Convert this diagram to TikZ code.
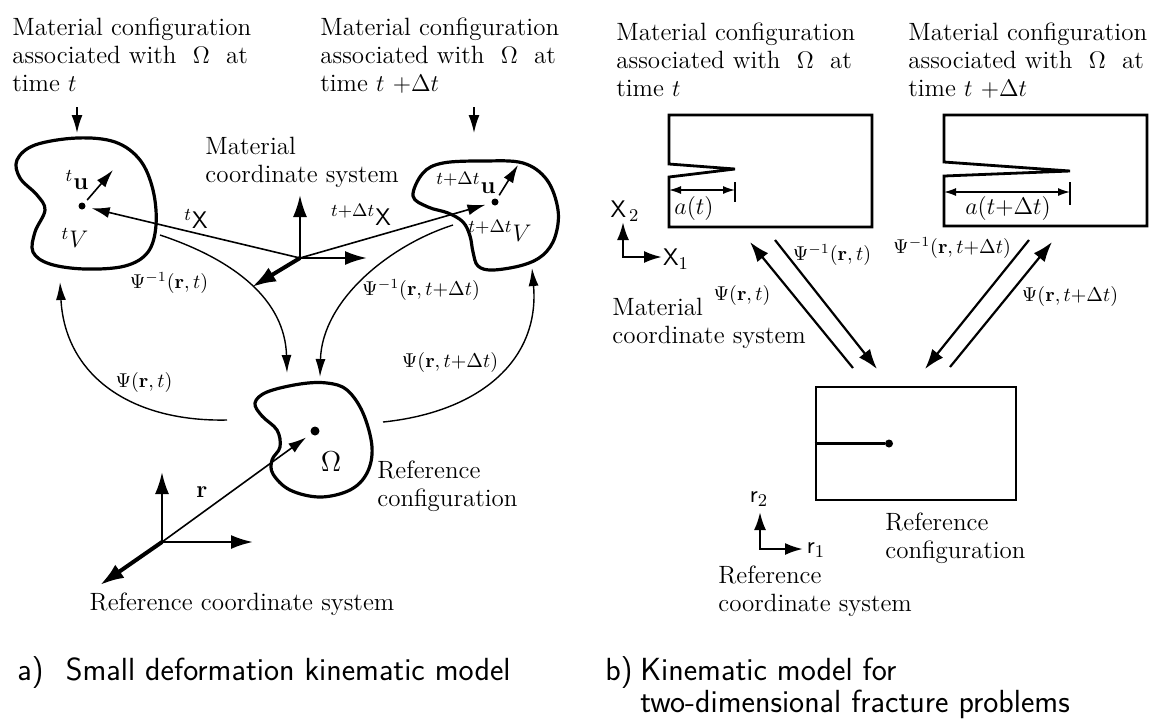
\documentclass[tikz,border=0pt]{standalone}
\usepackage{tikz}
\usetikzlibrary{arrows.meta, positioning}

\begin{document}
\begin{tikzpicture}[x=0.5pt, y=-0.5pt,
    every node/.style={inner sep=0pt, font=\fontsize{12.5}{14}\selectfont},
    txt/.style={align=left, anchor=north west},
    lbl/.style={font=\fontsize{10}{12}\selectfont},
    captext/.style={anchor=base west, font=\sffamily\fontsize{16}{19}\selectfont},
    blob/.style={line width=1.6pt, line join=round},
    plate/.style={line width=1.4pt, line join=miter},
    axisarrow/.style={line width=1.2pt, -{Latex[length=11pt,width=7pt]}},
    heavyaxis/.style={line width=2pt, -{Latex[length=12pt,width=8pt]}},
    vecarrow/.style={line width=0.8pt, -{Latex[length=9pt,width=5.5pt]}},
    maparrow/.style={line width=0.7pt, -{Latex[length=9pt,width=5pt]}},
    pairarrow/.style={line width=1.1pt, -{Latex[length=10pt,width=7pt]}},
    dimarrow/.style={line width=0.7pt, {Latex[length=6pt,width=4pt]}-{Latex[length=6pt,width=4pt]}},
    dot/.style={circle, fill, inner sep=0pt, minimum size=3.5pt}]

\useasboundingbox (0,0) rectangle (1159,725);

% ---------- a) small deformation kinematic model ----------
% texts
\node[txt] (matT) at (12,17) {Material configuration\\associated with \ $\Omega$ \ at\\time $t$};
\node[txt] (matTdt) at (320,17) {Material configuration\\associated with \ $\Omega$ \ at\\time $t$ $+\Delta t$};
\node[txt] (matSys) at (205,137) {Material\\coordinate system};
\node[txt] (refConf) at (377,460) {Reference\\configuration};
\node[anchor=base] (refSys) at (242,610) {Reference coordinate system};

% bodies
\draw[blob] plot[smooth cycle, tension=0.6] coordinates {(17,160) (35,145) (77,138) (115,142) (140,160) (153,190) (156,225) (148,252) (125,266) (85,269) (50,264) (33,252) (35,232) (45,210) (37,195) (20,178)}; % time t
\draw[blob] plot[smooth cycle, tension=0.6] coordinates {(413,196) (423,173) (443,163) (483,161) (523,163) (547,180) (558,210) (555,237) (543,255) (523,265) (493,270) (478,266) (473,252) (470,236) (463,222) (448,213) (428,207)}; % time t+dt
\draw[blob] plot[smooth cycle, tension=0.6] coordinates {(255,403) (267,392) (300,384) (327,383) (347,390) (363,413) (372,447) (367,473) (350,490) (320,497) (290,490) (273,474) (272,460) (280,447) (277,430) (262,416)}; % reference

% points
\node[dot] (pT) at (82,206) {};
\node[dot] (pTdt) at (495,202) {};
\node[dot, minimum size=4.5pt] (pOm) at (315,431) {};

% point labels
\node (uT) at (77,180) {${}^{t}\mathbf{u}$};
\node (VT) at (75,238) {${}^{t}V$};
\node (uTdt) at (466,183) {${}^{t+\Delta t}\mathbf{u}$};
\node (VTdt) at (500,231) {${}^{t+\Delta t}V$};
\node[font=\fontsize{15}{18}\selectfont] (om) at (331,462) {$\Omega$};

% pointers from the texts
\coordinate (inT0) at (77,107); \coordinate (inT1) at (77,133);
\coordinate (inD0) at (474,107); \coordinate (inD1) at (474,133);
\draw[vecarrow] (inT0) -- (inT1);
\draw[vecarrow] (inD0) -- (inD1);

% displacement vectors
\coordinate (uTtip) at (113,170);
\coordinate (uDtip) at (518,165);
\draw[vecarrow, shorten <=2pt] (pT) -- (uTtip);
\draw[vecarrow, shorten <=2pt] (pTdt) -- (uDtip);

% material coordinate system
\coordinate (matO) at (300,258);
\coordinate (matY) at (300,195);
\coordinate (matX) at (367,258);
\coordinate (matZ) at (252,287);
\draw[axisarrow] (matO) -- (matY);
\draw[axisarrow] (matO) -- (matX);
\draw[heavyaxis] (matO) -- (matZ);
\draw[vecarrow, shorten >=3pt] (matO) -- (pT);
\draw[vecarrow, shorten >=3pt] (matO) -- (pTdt);
\node (XT) at (196,219) {${}^{t}\mathsf{X}$};
\node (XTdt) at (361,215) {${}^{t+\Delta t}\mathsf{X}$};

% reference coordinate system
\coordinate (refO) at (162,542);
\coordinate (refY) at (162,472);
\coordinate (refX) at (253,542);
\coordinate (refZ) at (100,585);
\draw[axisarrow] (refO) -- (refY);
\draw[axisarrow] (refO) -- (refX);
\draw[heavyaxis] (refO) -- (refZ);
\draw[vecarrow, shorten >=3pt] (refO) -- (pOm);
\node (r) at (202,492) {$\mathbf{r}$};

% mappings
\coordinate (psiTa) at (160,235); \coordinate (omTa) at (287,373);
\coordinate (psiDa) at (453,225); \coordinate (omDa) at (320,377);
\coordinate (omTb) at (227,420); \coordinate (psiTb) at (60,282);
\coordinate (omDb) at (383,422); \coordinate (psiDb) at (532,268);
\draw[maparrow] (psiTa) .. controls (235,260) and (285,300) .. (omTa);
\draw[maparrow] (psiDa) .. controls (390,245) and (322,300) .. (omDa);
\draw[maparrow] (omTb) .. controls (130,422) and (65,375) .. (psiTb);
\draw[maparrow] (omDb) .. controls (480,412) and (540,360) .. (psiDb);
\node[lbl] (invT) at (169,283) {$\Psi^{-1}(\mathbf{r},t)$};
\node[lbl] (invD) at (421,290) {$\Psi^{-1}(\mathbf{r},t{+}\Delta t)$};
\node[lbl] (fwdT) at (144,382) {$\Psi(\mathbf{r},t)$};
\node[lbl] (fwdD) at (450,362) {$\Psi(\mathbf{r},t{+}\Delta t)$};

% ---------- b) two-dimensional fracture ----------
% texts
\node[txt] (matT2) at (616,22) {Material configuration\\associated with \ $\Omega$ \ at\\time $t$};
\node[txt] (matTdt2) at (908,22) {Material configuration\\associated with \ $\Omega$ \ at\\time $t$ $+\Delta t$};
\node[txt] (matSys2) at (612,298) {Material\\coordinate system};
\node[txt] (refConf2) at (885,512) {Reference\\configuration};
\node[txt] (refSys2) at (718,565) {Reference\\coordinate system};

% cracked plates
\draw[plate] (669,177) -- (669,227) -- (872,227) -- (872,115) -- (669,115) -- (669,164) -- (735,169) -- cycle; % time t
\draw[plate] (944,176) -- (944,226) -- (1147,226) -- (1147,115) -- (944,115) -- (944,162) -- (1070,171) -- cycle; % time t+dt
\node[draw, plate, minimum width=100pt, minimum height=56.5pt] (refBox) at (916,443.5) {};
\node[dot, minimum size=4pt] (crackTip) at (889,443.5) {};
\draw[plate] (refBox.west) -- (crackTip);

% crack lengths
\coordinate (aT0) at (669,190); \coordinate (aT1) at (735,190);
\coordinate (aD0) at (944,192); \coordinate (aD1) at (1070,192);
\draw[dimarrow] (aT0) -- (aT1);
\draw[dimarrow] (aD0) -- (aD1);
\draw[line width=0.8pt] (aT1) ++(0,-8) -- ++(0,20);
\draw[line width=0.8pt] (aD1) ++(0,-10) -- ++(0,23);
\node (aT) at (694,208) {$a(t)$};
\node (aD) at (1008,208) {$a(t{+}\Delta t)$};

% axes
\coordinate (X0) at (623,257); \coordinate (X2) at (623,222); \coordinate (X1) at (662,257);
\draw[line width=1.2pt, {Latex[length=9pt,width=6pt]}-{Latex[length=9pt,width=6pt]}, line join=miter] (X2) -- (X0) -- (X1);
\node (X2lbl) at (625,211) {$\mathsf{X}_{\,2}$};
\node (X1lbl) at (676,259) {$\mathsf{X}_{1}$};
\coordinate (r0) at (760,549); \coordinate (r2) at (760,512); \coordinate (r1) at (803,549);
\draw[line width=1.2pt, {Latex[length=9pt,width=6pt]}-{Latex[length=9pt,width=6pt]}, line join=miter] (r2) -- (r0) -- (r1);
\node (r2lbl) at (759,499) {$\mathsf{r}_{2}$};
\node (r1lbl) at (816,550) {$\mathsf{r}_{1}$};

% mappings
\coordinate (mT1) at (750,242); \coordinate (rT1) at (853,368);
\coordinate (mT2) at (775,240); \coordinate (rT2) at (877,369);
\coordinate (mD1) at (1029,240); \coordinate (rD1) at (925,369);
\coordinate (mD2) at (1052,242); \coordinate (rD2) at (950,367);
\draw[pairarrow] (rT1) -- (mT1);
\draw[pairarrow] (mT2) -- (rT2);
\draw[pairarrow] (mD1) -- (rD1);
\draw[pairarrow] (rD2) -- (mD2);
\node[lbl] (invT2) at (832,255) {$\Psi^{-1}(\mathbf{r},t)$};
\node[lbl] (fwdT2) at (742,295) {$\Psi(\mathbf{r},t)$};
\node[lbl] (invD2) at (952,248) {$\Psi^{-1}(\mathbf{r},t{+}\Delta t)$};
\node[lbl] (fwdD2) at (1070,296) {$\Psi(\mathbf{r},t{+}\Delta t)$};

% captions
\node[captext] (capA) at (17,680) {a)\hspace{0.7em}Small deformation kinematic model};
\node[captext] (capB) at (605,680) {b)};
\node[captext] (capB1) at (640,680) {Kinematic model for};
\node[captext] (capB2) at (640,712) {two-dimensional fracture problems};
\end{tikzpicture}
\end{document}
